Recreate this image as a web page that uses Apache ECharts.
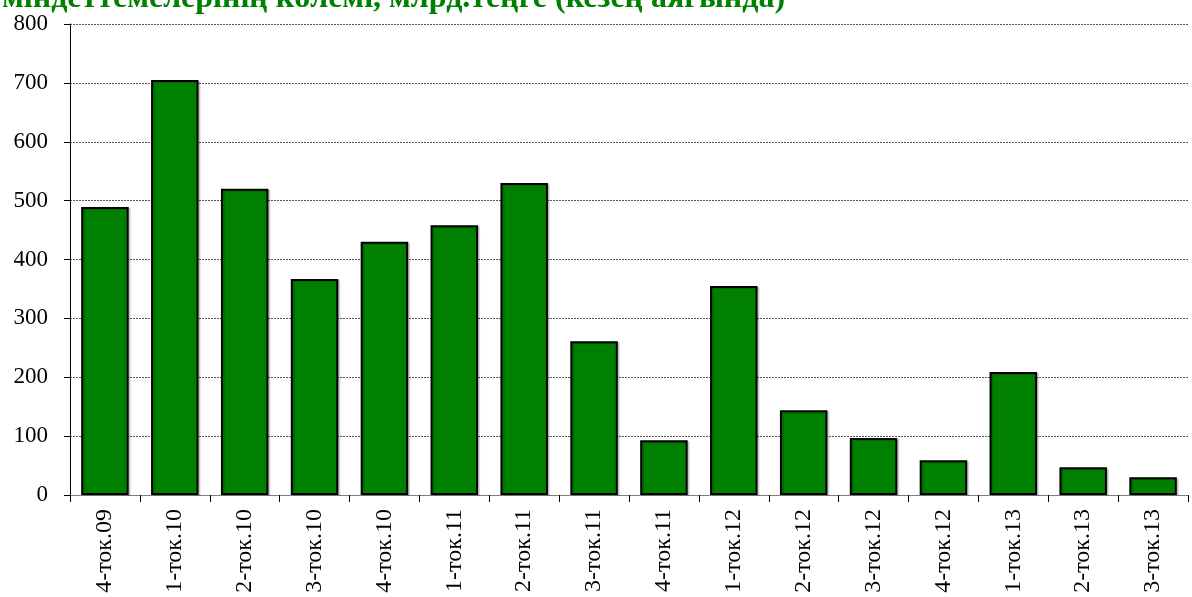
<!DOCTYPE html>
<html>
<head>
<meta charset="utf-8">
<script src="https://cdn.jsdelivr.net/npm/echarts@6/dist/echarts.min.js"></script>
<style>
  html, body { margin: 0; padding: 0; background: #fff; }
  #chart { width: 1192px; height: 597px; }
</style>
</head>
<body>
<div id="chart"></div>
<script>
// Quarter-end volumes, bn tenge
const categories = ['4-ток.09', '1-ток.10', '2-ток.10', '3-ток.10', '4-ток.10', '1-ток.11', '2-ток.11', '3-ток.11',
  '4-ток.11', '1-ток.12', '2-ток.12', '3-ток.12', '4-ток.12', '1-ток.13', '2-ток.13', '3-ток.13'];
const values = [489, 705, 520, 367, 430, 458, 530, 261, 93, 355, 144, 97, 59, 209, 47, 30];
const titleText = 'міндеттемелерінің көлемі, млрд.теңге (кезең аяғында)';

const serif = '"Liberation Serif", "Times New Roman", serif';
const chart = echarts.init(document.getElementById('chart'), null, { renderer: 'canvas' });

chart.setOption({
  animation: false,
  backgroundColor: '#ffffff',
  graphic: [{
    type: 'text',
    left: 2,
    top: -17,
    style: {
      text: titleText,
      font: 'bold 32px ' + serif,
      fill: '#008000'
    }
  }],
  grid: { left: 70, right: 4, top: 24, bottom: 102, containLabel: false },
  xAxis: {
    type: 'category',
    data: categories,
    axisLine: { lineStyle: { color: '#808080', width: 1 } },
    axisTick: { show: true, alignWithLabel: false, length: 7, lineStyle: { color: '#000' } },
    axisLabel: {
      rotate: 90,
      interval: 0,
      margin: 14,
      fontFamily: serif,
      fontSize: 24,
      color: '#000'
    }
  },
  yAxis: {
    type: 'value',
    min: 0,
    max: 800,
    interval: 100,
    axisLine: { show: true, lineStyle: { color: '#000', width: 1 } },
    axisTick: { show: true, inside: false, length: 6, lineStyle: { color: '#000' } },
    axisLabel: { fontFamily: serif, fontSize: 23, color: '#000', margin: 22 },
    splitLine: { show: true, lineStyle: { color: '#555', type: [2, 1], width: 1 } }
  },
  series: [{
    type: 'bar',
    data: values,
    barWidth: '68%',
    itemStyle: {
      color: '#008000',
      borderColor: '#000',
      borderWidth: 2,
      shadowColor: 'rgba(0,0,0,0.15)',
      shadowOffsetX: 2,
      shadowOffsetY: 1
    }
  }]
});
</script>
</body>
</html>
